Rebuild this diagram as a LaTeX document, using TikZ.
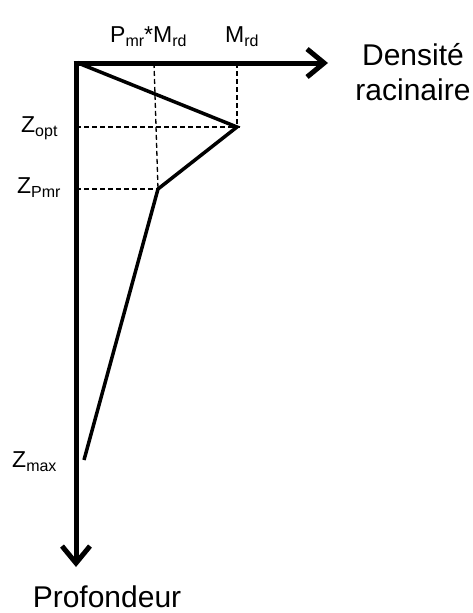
\documentclass[tikz,border=0pt]{standalone}
\usepackage{fontspec}
\setmainfont{Liberation Sans}
\usetikzlibrary{arrows.meta, positioning}

\newcommand{\lowidx}[1]{\raisebox{-4pt}{\fontsize{16}{16}\selectfont #1}}

\begin{document}
\begin{tikzpicture}[
    x=1pt, y=-1pt,
    axis_arrow/.style={line width=5pt, -{Straight Barb[length=17pt, width=28pt]}},
    profile_line/.style={line width=3.5pt, line join=miter},
    guide_line/.style={line width=1.3pt, dash pattern=on 5pt off 3pt},
    % Labels
    axis_label/.style={font=\fontsize{30}{35}\selectfont, align=center, inner sep=0pt},
    value_label/.style={font=\fontsize{23}{26}\selectfont, anchor=base west, inner sep=0pt}
]
    \useasboundingbox (0,0) rectangle (472,613);

    % =========================================================================
    % AXES
    % =========================================================================
    \coordinate (O) at (76,63);
    \coordinate (xend) at (328,63);
    \coordinate (yend) at (76,567);

    \draw [axis_arrow] ([xshift=-2.5pt]O) -- (xend);
    \draw [axis_arrow] ([yshift=2.5pt]O) -- (yend);

    \node [axis_label] (dens) at (413,72) {Densité\\racinaire};
    \node [axis_label, anchor=base] (prof) at (107,607) {Profondeur};

    % =========================================================================
    % PROFILE
    % =========================================================================
    \coordinate (top) at (78,63);
    \coordinate (opt) at (237,127);
    \coordinate (pmr) at (158,189);
    \coordinate (zmax) at (84,460);
    \coordinate (pmrx) at (154,63);
    \coordinate (mrdx) at (237,63);

    \draw [guide_line] (pmrx) -- (pmr);
    \draw [guide_line] (mrdx) -- (opt);
    \draw [guide_line] (O |- opt) -- ([xshift=3pt]opt);
    \draw [guide_line] (O |- pmr) -- (pmr);

    \draw [profile_line] (top) -- (opt) -- (pmr) -- (zmax);

    \node [value_label] (pmrlab) at (110,42) {P\lowidx{mr}*M\lowidx{rd}};
    \node [value_label] (mrdlab) at (225,42) {M\lowidx{rd}};
    \node [value_label] (zopt) at (21,132) {Z\lowidx{opt}};
    \node [value_label] (zpmr) at (17,193) {Z\lowidx{Pmr}};
    \node [value_label] (zmaxlab) at (12,467) {Z\lowidx{max}};
\end{tikzpicture}
\end{document}
